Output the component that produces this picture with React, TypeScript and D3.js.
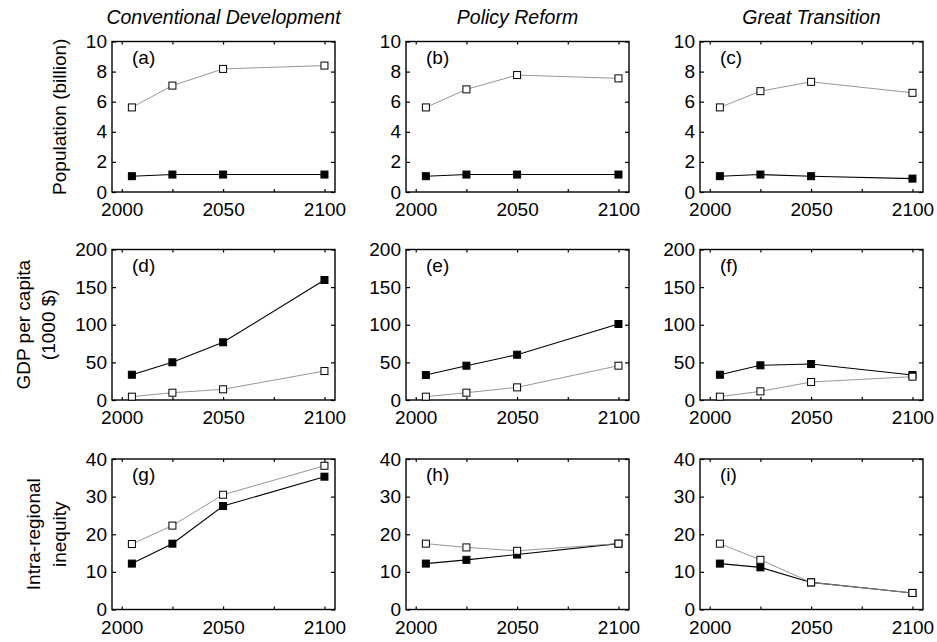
import React, { useEffect, useRef } from 'react'
import * as d3 from 'd3'

// data
const years = [2005, 2025, 2050, 2100]
const scenarios = ['Conventional Development', 'Policy Reform', 'Great Transition']
const panelLetters = [
  ['(a)', '(b)', '(c)'],
  ['(d)', '(e)', '(f)'],
  ['(g)', '(h)', '(i)'],
]

const popFilled = [
  [1.05, 1.16, 1.16, 1.16],
  [1.05, 1.16, 1.16, 1.16],
  [1.05, 1.16, 1.05, 0.89],
]
const popOpen = [
  [5.62, 7.07, 8.18, 8.4],
  [5.62, 6.82, 7.77, 7.55],
  [5.62, 6.7, 7.32, 6.59],
]
const gdpFilled = [
  [33.6, 50.1, 76.7, 159.5],
  [33.2, 45.6, 60.2, 101],
  [33.6, 46.1, 47.8, 33.2],
]
const gdpOpen = [
  [4.4, 9.7, 14.2, 38.5],
  [4.4, 9.7, 16.8, 45.6],
  [4.4, 11.5, 23.9, 31],
]
const ineqFilled = [
  [12.2, 17.5, 27.5, 35.3],
  [12.2, 13.2, 14.6, 17.5],
  [12.2, 11.2, 7.2, 4.4],
]
const ineqOpen = [
  [17.4, 22.3, 30.5, 38.2],
  [17.5, 16.5, 15.6, 17.5],
  [17.5, 13.2, 7.2, 4.4],
]

const popTicks = [0, 2, 4, 6, 8, 10]
const gdpTicks = [0, 50, 100, 150, 200]
const ineqTicks = [0, 10, 20, 30, 40]
const xTicks = [2000, 2025, 2050, 2075, 2100]
const xLabels = [2000, 2050, 2100]

const FONT = "'Liberation Sans', Arial, sans-serif"

const App = () => {
  const svgRef = useRef<SVGSVGElement>(null)

  useEffect(() => {
    const svg = d3.select(svgRef.current)
    svg.selectAll('*').remove()

    const W = 937
    const H = 642
    svg.attr('width', W).attr('height', H)

    const colLeft = [112, 406, 700]
    const rowTop = [41.5, 249.5, 459]
    const pw = 223
    const ph = 150.5

    const rows = [
      { filled: popFilled, open: popOpen, ticks: popTicks, max: 10, label: [{ t: 'Population (billion)', x: 59 }] },
      {
        filled: gdpFilled,
        open: gdpOpen,
        ticks: gdpTicks,
        max: 200,
        label: [
          { t: 'GDP per capita', x: 23 },
          { t: '(1000 $)', x: 48 },
        ],
      },
      {
        filled: ineqFilled,
        open: ineqOpen,
        ticks: ineqTicks,
        max: 40,
        label: [
          { t: 'Intra-regional', x: 33 },
          { t: 'inequity', x: 59 },
        ],
      },
    ]

    const x = d3.scaleLinear().domain([1995.2, 2105.2]).range([0, pw])

    // column titles
    scenarios.forEach((s, c) => {
      svg
        .append('text')
        .text(s)
        .attr('x', colLeft[c] + pw / 2)
        .attr('y', 24)
        .attr('text-anchor', 'middle')
        .style('font-family', FONT)
        .style('font-style', 'italic')
        .style('font-size', '19.5px')
    })

    rows.forEach((row, r) => {
      const y = d3.scaleLinear().domain([0, row.max]).range([ph, 0])

      // row label
      row.label.forEach((l) => {
        svg
          .append('text')
          .text(l.t)
          .attr('transform', `translate(${l.x}, ${rowTop[r] + ph / 2}) rotate(-90)`)
          .attr('text-anchor', 'middle')
          .attr('dy', '0.35em')
          .style('font-family', FONT)
          .style('font-size', '19px')
      })

      for (let c = 0; c < 3; c++) {
        const g = svg.append('g').attr('transform', `translate(${colLeft[c]}, ${rowTop[r]})`)

        // axes with inward ticks
        const left = g.append('g').call(d3.axisLeft(y).tickValues(row.ticks).tickSize(-4).tickSizeOuter(0).tickPadding(5))
        const right = g
          .append('g')
          .attr('transform', `translate(${pw},0)`)
          .call(d3.axisRight(y).tickValues(row.ticks).tickSize(-4).tickSizeOuter(0).tickFormat(() => ''))
        const top = g.append('g').call(d3.axisTop(x).tickValues(xTicks).tickSize(-3).tickSizeOuter(0).tickFormat(() => ''))
        const bottom = g
          .append('g')
          .attr('transform', `translate(0,${ph})`)
          .call(
            d3
              .axisBottom(x)
              .tickValues(xTicks)
              .tickSize(-3)
              .tickSizeOuter(0)
              .tickPadding(11)
              .tickFormat((d) => (xLabels.includes(+d) ? String(d) : '')),
          )
        ;[left, right, top, bottom].forEach((a) => {
          a.select('.domain').remove()
          a.selectAll('line').attr('stroke', '#000').attr('stroke-width', 1.2)
          a.selectAll('text').style('font-family', FONT).style('font-size', '19px').attr('fill', '#000')
        })

        // frame
        g.append('rect')
          .attr('width', pw)
          .attr('height', ph)
          .attr('fill', 'none')
          .attr('stroke', '#000')
          .attr('stroke-width', 1.4)

        // panel letter
        g.append('text')
          .text(panelLetters[r][c])
          .attr('x', 20)
          .attr('y', 22)
          .style('font-family', FONT)
          .style('font-size', '19px')

        const line = d3
          .line<number>()
          .x((d, i) => x(years[i]))
          .y((d) => y(d))

        const series = [
          { vals: row.filled[c], stroke: '#000', sw: 1.1, fill: '#000' },
          { vals: row.open[c], stroke: '#8a8a8a', sw: 0.9, fill: '#fff' },
        ]
        const sq = 7
        series.forEach((s) => {
          g.append('path').attr('d', line(s.vals)).attr('fill', 'none').attr('stroke', s.stroke).attr('stroke-width', s.sw)
          g.selectAll(null)
            .data(s.vals)
            .enter()
            .append('rect')
            .attr('x', (d, i) => x(years[i]) - sq / 2)
            .attr('y', (d) => y(d) - sq / 2)
            .attr('width', sq)
            .attr('height', sq)
            .attr('fill', s.fill)
            .attr('stroke', '#000')
            .attr('stroke-width', 1)
        })
      }
    })
  }, [])

  return (
    <div style={{ position: 'absolute', left: 0, top: 0 }}>
      <svg ref={svgRef} style={{ display: 'block', background: '#fff' }}></svg>
    </div>
  )
}

export default App
